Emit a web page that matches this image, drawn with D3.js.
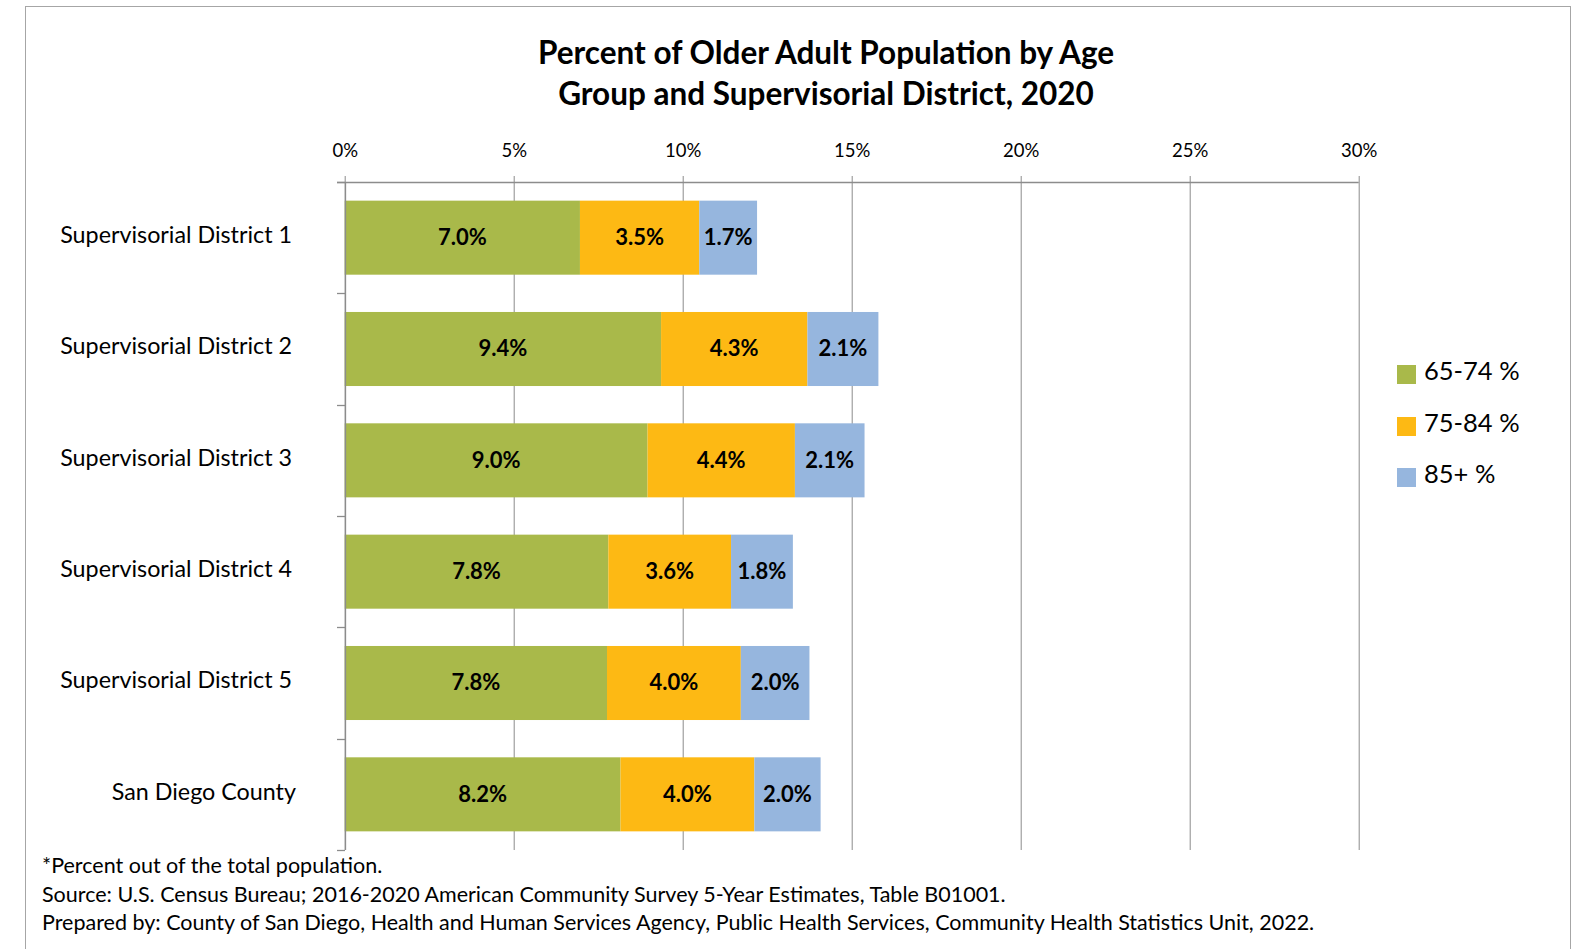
<!DOCTYPE html>
<html><head><meta charset="utf-8">
<script src="https://cdn.jsdelivr.net/npm/d3@7"></script>
<style>
html,body{margin:0;padding:0;background:#fff;}
svg{display:block;font-family:Lato,"Open Sans",sans-serif;}
</style></head>
<body><svg id="c" width="1585" height="949"></svg>
<script>
const categories = ["Supervisorial District 1","Supervisorial District 2","Supervisorial District 3","Supervisorial District 4","Supervisorial District 5","San Diego County"];
const seriesNames = ["65-74 %","75-84 %","85+ %"];
const age65to74 = [6.96, 9.36, 8.96, 7.80, 7.76, 8.16];
const age75to84 = [3.53, 4.33, 4.36, 3.63, 3.96, 3.96];
const age85plus = [1.71, 2.10, 2.06, 1.83, 2.03, 1.96];
const xTicks = [0,5,10,15,20,25,30];
const titleLines = ["Percent of Older Adult Population by Age","Group and Supervisorial District, 2020"];
const notes = ["*Percent out of the total population.",
 "Source: U.S. Census Bureau; 2016-2020 American Community Survey 5-Year Estimates, Table B01001.",
 "Prepared by: County of San Diego, Health and Human Services Agency, Public Health Services, Community Health Statistics Unit, 2022."];
const colors = ["#A9B94A","#FDB914","#96B6DE"];

const svg = d3.select("#c");
svg.append("rect").attr("x",25.5).attr("y",6.5).attr("width",1545).attr("height",1000)
  .attr("fill","none").attr("stroke","#a6a6a6").attr("stroke-width",1);

svg.append("g").selectAll("text").data(titleLines).join("text")
  .attr("x",826).attr("y",(d,i)=>63.5+i*41).attr("text-anchor","middle")
  .attr("font-size",31.5).attr("font-weight","bold").attr("fill","#000").text(d=>d);

const x = d3.scaleLinear().domain([0,30]).range([344.7,1358.7]);
const y = d3.scaleBand().domain(categories).range([182,850]).paddingInner(0.335).paddingOuter(0.1675);
const gridColor = "#8c8c8c";

// gridlines + top ticks
const gx = svg.append("g").attr("transform","translate(0,182)")
  .call(d3.axisTop(x).tickValues(xTicks).tickFormat(d=>d+"%").tickSize(6).tickPadding(19));
gx.select(".domain").remove();
gx.selectAll(".tick line").attr("stroke",gridColor).attr("y2",-6).attr("y1",668);
gx.selectAll(".tick text").attr("font-size",18.5).attr("fill","#000").attr("font-family","Lato");

// horizontal axis line
svg.append("line").attr("x1",337).attr("x2",x(30)).attr("y1",182.5).attr("y2",182.5).attr("stroke",gridColor).attr("stroke-width",1.3);

// stacked data
const keys = ["a","b","c"];
const rows = categories.map((c,i)=>({cat:c, a:age65to74[i], b:age75to84[i], c:age85plus[i]}));
const stack = d3.stack().keys(keys)(rows);
const g = svg.append("g");
stack.forEach((layer,li)=>{
  g.append("g").selectAll("rect").data(layer).join("rect")
    .attr("x",d=>x(d[0])).attr("width",d=>x(d[1])-x(d[0]))
    .attr("y",d=>y(d.data.cat)).attr("height",y.bandwidth())
    .attr("fill",colors[li]);
});
stack.forEach((layer,li)=>{
  g.append("g").selectAll("text").data(layer).join("text")
    .attr("x",d=>(x(d[0])+x(d[1]))/2).attr("y",d=>y(d.data.cat)+y.bandwidth()/2)
    .attr("dy","0.34em").attr("text-anchor","middle").attr("font-size",22).attr("font-weight","bold")
    .attr("fill","#000").text(d=>d.data[keys[li]].toFixed(1)+"%");
});

// left axis
const boundaries = categories.map(c=>y(c)-y.step()*y.paddingInner()/2).concat([850]);
svg.append("line").attr("x1",345.5).attr("x2",345.5).attr("y1",182).attr("y2",850).attr("stroke",gridColor).attr("stroke-width",1.3);
svg.append("g").selectAll("line").data(boundaries).join("line")
  .attr("x1",337).attr("x2",345).attr("y1",d=>Math.round(d)+0.5).attr("y2",d=>Math.round(d)+0.5).attr("stroke",gridColor).attr("stroke-width",1.3);
svg.append("g").selectAll("text").data(categories).join("text")
  .attr("x",d=>d==="San Diego County"?296:292).attr("y",d=>y(d)+y.bandwidth()/2-3).attr("dy","0.36em")
  .attr("text-anchor","end").attr("font-size",23.3).attr("fill","#000").text(d=>d);

// legend
const lg = svg.append("g");
const legY = [365, 417, 468];
seriesNames.forEach((s,i)=>{
  lg.append("rect").attr("x",1397).attr("y",legY[i]).attr("width",19).attr("height",19).attr("fill",colors[i]);
  lg.append("text").attr("x",1424).attr("y",legY[i]+15).attr("font-size",25.5).attr("fill","#000").text(s);
});

// notes
svg.append("g").selectAll("text").data(notes).join("text")
  .attr("x",42).attr("y",(d,i)=>873+i*28.6).attr("font-size",21.5).attr("fill","#000").text(d=>d);
</script></body></html>
